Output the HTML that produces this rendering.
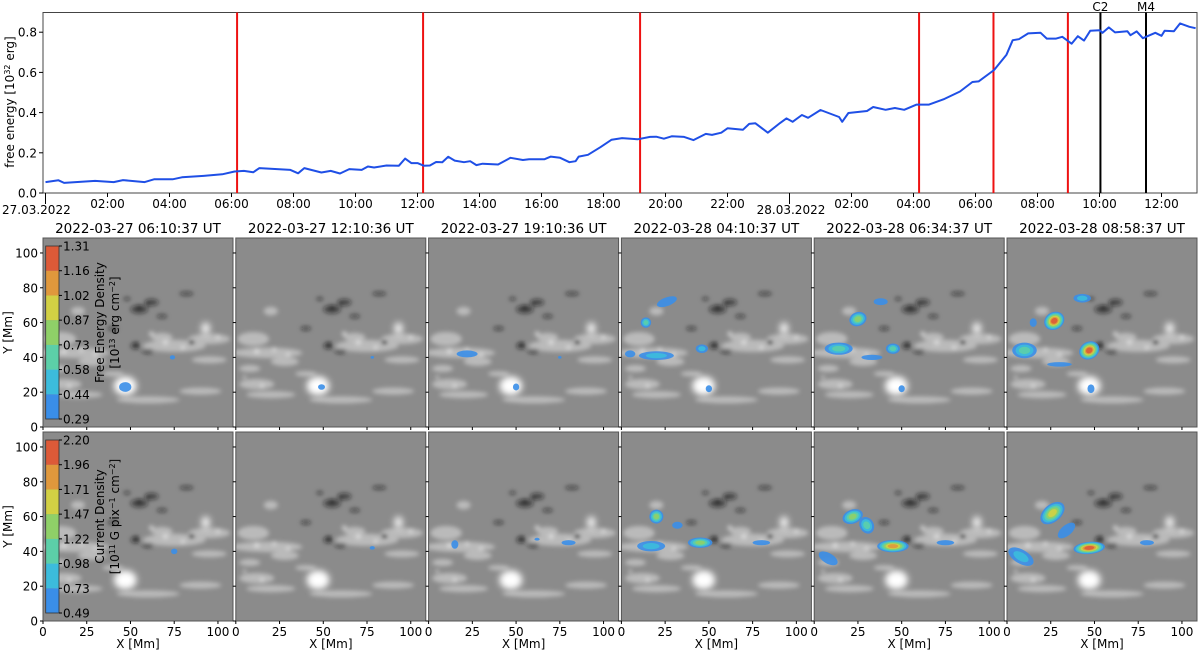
<!DOCTYPE html>
<html><head><meta charset="utf-8">
<style>
html,body{margin:0;padding:0;background:#fff;}
svg{display:block;font-family:"DejaVu Sans","Liberation Sans",sans-serif;}
</style></head>
<body>
<svg id="fig" width="1200" height="651" viewBox="0 0 1200 651" xmlns="http://www.w3.org/2000/svg">
<defs>
<filter id="blur1" x="-20%" y="-20%" width="140%" height="140%"><feGaussianBlur stdDeviation="1.2"/></filter>
<filter id="blur2" x="-50%" y="-50%" width="200%" height="200%"><feGaussianBlur stdDeviation="2"/></filter>
<symbol id="mag" viewBox="0 0 108.6 108.6" preserveAspectRatio="none">
<rect x="0" y="0" width="108.6" height="108.6" fill="#8b8b8b"/>
<g filter="url(#blur1)">
<g fill="#f4f4f4" opacity="0.45">
<ellipse cx="18" cy="66" rx="20" ry="3"/>
<ellipse cx="10" cy="58" rx="9" ry="4"/>
<ellipse cx="28" cy="71" rx="8" ry="2.5"/>
<ellipse cx="75" cy="62" rx="18" ry="3.5"/>
<ellipse cx="95" cy="58" rx="12" ry="3"/>
<ellipse cx="68" cy="57" rx="6" ry="2.5"/>
<ellipse cx="12" cy="84" rx="10" ry="3"/>
<ellipse cx="20" cy="90" rx="14" ry="2"/>
<ellipse cx="60" cy="93" rx="18" ry="2"/>
<ellipse cx="90" cy="88" rx="12" ry="2"/>
<ellipse cx="20" cy="42" rx="4" ry="2.5"/>
<ellipse cx="95" cy="70" rx="10" ry="2"/>
<ellipse cx="8" cy="75" rx="6" ry="2"/>
<ellipse cx="40" cy="78" rx="6" ry="1.5"/>
</g>
<g fill="#ffffff" opacity="0.5">
<circle cx="12" cy="65" r="1.5"/><circle cx="22" cy="64" r="1.2"/><circle cx="30" cy="67" r="1.2"/>
<circle cx="70" cy="60" r="1.5"/><circle cx="80" cy="63" r="1.2"/><circle cx="100" cy="57" r="1.2"/>
<circle cx="15" cy="85" r="1.2"/><circle cx="5" cy="80" r="1"/><circle cx="62" cy="55" r="1.5"/>
</g>
<g fill="#1a1a1a" opacity="0.55">
<ellipse cx="55" cy="41" rx="5" ry="2.5"/>
<ellipse cx="62" cy="37" rx="4" ry="2"/>
<ellipse cx="53" cy="62" rx="3" ry="2"/>
<ellipse cx="60" cy="65" rx="3.5" ry="1.5"/>
<ellipse cx="85" cy="60" rx="2" ry="1.5"/>
<ellipse cx="82" cy="32" rx="4" ry="1.2"/>
<ellipse cx="40" cy="52" rx="3" ry="1.2"/>
<ellipse cx="68" cy="45" rx="3" ry="1.2"/>
<ellipse cx="48" cy="35" rx="2" ry="1"/>
</g>
<g fill="#111" opacity="0.7">
<circle cx="55" cy="40" r="1.3"/><circle cx="60" cy="38" r="1"/><circle cx="53" cy="61" r="1.2"/><circle cx="85" cy="60" r="1.2"/>
</g>
</g>
<g filter="url(#blur2)">
<ellipse cx="47" cy="85" rx="6.5" ry="5.5" fill="#ffffff"/>
<ellipse cx="93" cy="52" rx="2.5" ry="3.5" fill="#ffffff" opacity="0.9"/>
</g>
</symbol>
</defs>

<g id="top">
<rect x="43" y="12.5" width="1154" height="180.5" fill="#fff" stroke="#444" stroke-width="1"/>
<g id="top-yticks"></g>
<g id="top-xticks"></g>
<g id="top-vlines"></g>
<path id="energy-line" fill="none" stroke="#1f4fe6" stroke-width="2" stroke-linejoin="round"/>
<text transform="translate(14,102) rotate(-90)" text-anchor="middle" font-size="12">free energy [10<tspan baseline-shift="super" font-size="8">32</tspan> erg]</text>
<text x="2" y="214" font-size="12">27.03.2022</text>
<text x="791" y="214" font-size="12" text-anchor="middle">28.03.2022</text>
</g>

<g id="panels"></g>
</svg>

<script>
const hours = [0,0.42,0.6,1.6,2.2,2.5,3.2,3.5,4.1,4.4,5.1,5.7,6.1,6.4,6.7,6.9,7.9,8.15,8.35,8.9,9.2,9.5,9.8,10.2,10.4,10.6,11.0,11.4,11.6,11.8,12.0,12.2,12.4,12.6,12.8,12.99,13.2,13.5,13.7,13.9,14.1,14.6,15.0,15.4,15.6,16.1,16.3,16.6,16.9,17.1,17.2,17.5,17.9,18.26,18.6,19.1,19.5,19.7,19.95,20.2,20.6,20.9,21.3,21.5,21.8,22.0,22.5,22.7,22.9,23.3,23.7,23.9,24.1,24.4,24.6,25.0,25.6,25.7,25.9,26.5,26.7,27.1,27.4,27.7,28.1,28.5,29.0,29.5,29.9,30.1,30.6,31.0,31.2,31.4,31.7,32.1,32.3,32.6,32.8,33.1,33.3,33.5,33.7,34.0,34.1,34.3,34.5,34.9,35.0,35.2,35.4,35.5,35.8,36.0,36.1,36.4,36.6,36.9,37.1];
const energy = [0.054,0.063,0.05,0.06,0.054,0.064,0.054,0.068,0.068,0.078,0.085,0.093,0.107,0.11,0.103,0.124,0.115,0.098,0.124,0.102,0.11,0.097,0.119,0.115,0.132,0.127,0.137,0.136,0.171,0.149,0.149,0.136,0.137,0.154,0.153,0.18,0.161,0.153,0.158,0.139,0.146,0.142,0.175,0.164,0.168,0.168,0.181,0.175,0.153,0.158,0.181,0.19,0.228,0.265,0.273,0.267,0.279,0.28,0.27,0.282,0.279,0.263,0.294,0.289,0.3,0.322,0.315,0.344,0.347,0.3,0.349,0.371,0.354,0.388,0.374,0.413,0.378,0.354,0.398,0.408,0.428,0.414,0.423,0.414,0.44,0.44,0.468,0.505,0.552,0.555,0.612,0.688,0.76,0.765,0.794,0.797,0.768,0.768,0.777,0.743,0.78,0.758,0.807,0.81,0.797,0.824,0.799,0.805,0.785,0.804,0.77,0.777,0.797,0.782,0.807,0.805,0.844,0.827,0.82];
const yTicks = [0.0,0.2,0.4,0.6,0.8];
const yTickLabels = ["0.0","0.2","0.4","0.6","0.8"];
const xTickHours = [2,4,6,8,10,12,14,16,18,20,22,26,28,30,32,34,36];
const xTickLabels = ["02:00","04:00","06:00","08:00","10:00","12:00","14:00","16:00","18:00","20:00","22:00","02:00","04:00","06:00","08:00","10:00","12:00"];
const redLineHours = [6.18,12.18,19.18,28.18,30.58,32.98];
const flareHours = [34.03,35.5];
const flareLabels = ["C2","M4"];

const NS='http://www.w3.org/2000/svg';
function mk(tag, attrs, parent){const e=document.createElementNS(NS,tag);for(const k in attrs)e.setAttribute(k,attrs[k]);parent.appendChild(e);return e;}
const xT = h => 45.5 + 31.0*h;
const yT = v => 193 - 201*v;

let d='';
hours.forEach((h,i)=>{d+=(i?'L':'M')+xT(h).toFixed(1)+','+yT(energy[i]).toFixed(1);});
document.getElementById('energy-line').setAttribute('d',d);

const gy=document.getElementById('top-yticks');
yTicks.forEach((v,i)=>{
  const l=mk('line',{x1:39,x2:43,y1:yT(v),y2:yT(v),stroke:'#000'},gy);
  
  
  const t=mk('text',{x:37,y:yT(v)+4.5,'text-anchor':'end','font-size':12},gy);
  t.textContent=yTickLabels[i];
  
  
});
const gx=document.getElementById('top-xticks');
xTickHours.forEach((h,i)=>{
  const l=mk('line',{x1:xT(h),x2:xT(h),y1:193,y2:197,stroke:'#000'},gx);
  
  
  const t=mk('text',{x:xT(h),y:208,'text-anchor':'middle','font-size':12},gx);
  t.textContent=xTickLabels[i];
  
  
});
[0,24].forEach(h=>{
  const l=mk('line',{x1:xT(h),x2:xT(h),y1:193,y2:204,stroke:'#000'},gx);
  
  
});
const gv=document.getElementById('top-vlines');
redLineHours.forEach(h=>{
  const l=mk('line',{x1:xT(h),x2:xT(h),y1:12.5,y2:193,stroke:'#ee1111','stroke-width':2},gv);
  
  
});
flareHours.forEach((h,i)=>{
  const l=mk('line',{x1:xT(h),x2:xT(h),y1:12.5,y2:193,stroke:'#000','stroke-width':2},gv);
  
  
  const t=mk('text',{x:xT(h),y:11,'text-anchor':'middle','font-size':12},gv);
  t.textContent=flareLabels[i];
  
  
});

const titles=["2022-03-27 06:10:37 UT","2022-03-27 12:10:36 UT","2022-03-27 19:10:36 UT","2022-03-28 04:10:37 UT","2022-03-28 06:34:37 UT","2022-03-28 08:58:37 UT"];
const panelLefts=[43,235.8,428.6,621.4,814.2,1007];
const rowTops=[238,432];
const PW=190, PH=189, MM=108.6;
const cmap=['#3a8ee8','#3cbcdc','#5ccfa8','#8fd068','#d2d044','#e0983c','#dd5a38'];
const cbTicks1=["0.29","0.44","0.58","0.73","0.87","1.02","1.16","1.31"];
const cbTicks2=["0.49","0.73","0.98","1.22","1.47","1.71","1.96","2.20"];
const blobs=[
 [ [[47,23,3.5,2.8,0,0],[74,40,1.5,1.2,0,0]],
   [[49,23,2,1.6,0,0],[78,40,1,0.8,0,0]],
   [[22,42,6,2,0,0],[50,23,1.8,2,0,0],[75,40,1,0.8,0,0]],
   [[14,60,3,3,0,2],[26,72,6,2.5,-20,0],[20,41,10,2.5,0,1],[46,45,3.5,2.5,0,1],[50,22,1.8,2,0,0],[5,42,3,2,0,0]],
   [[25,62,5,4,-20,3],[14,45,8,3.5,0,2],[45,45,4,3,0,2],[50,22,1.8,2,0,0],[38,72,4,2,0,0],[33,40,6,1.5,0,0]],
   [[27,61,6,5,-30,6],[47,44,6,5,-30,6],[10,44,7,4.5,0,2],[43,74,5,2.5,0,1],[30,36,7,1.3,0,0],[48,22,2,2.5,0,0],[15,60,2,2.5,0,0]] ],
 [ [[75,40,1.8,1.6,0,0]],
   [[78,42,1.5,1,0,0]],
   [[15,44,2,2.5,0,0],[80,45,4,1.5,0,0],[62,47,1.5,0.8,0,0]],
   [[20,60,4,4,-20,3],[17,43,8,3,0,1],[45,45,7,3,0,3],[80,45,5,1.5,0,0],[32,55,3,2,0,0]],
   [[22,60,6,4,-20,3],[30,55,4,5,-30,2],[45,43,9,3.5,0,5],[8,36,6,3,30,0],[75,45,5,1.5,0,0]],
   [[26,62,8,5,-40,4],[47,42,9,3.5,-5,6],[8,37,8,4,30,1],[80,45,4,1.5,0,0],[34,52,6,3,-40,0]] ]
];
const gp=document.getElementById('panels');
for(let r=0;r<2;r++){
  for(let c=0;c<6;c++){
    const L=panelLefts[c], T=rowTops[r];
    const xM=v=>L+v*PW/MM, yM=v=>T+PH-v*PH/MM;
    const g=mk('g',{},gp);
    
    
    mk('use',{href:'#mag',x:L,y:T,width:PW,height:PH},g);
    blobs[r][c].forEach(b=>{
      const cx=xM(b[0]), cy=yM(b[1]), rx=b[2]*PW/MM, ry=b[3]*PH/MM;
      for(let k=0;k<=b[5];k++){
        const f=1-k/(b[5]+1)*0.8;
        const e=mk('ellipse',{cx:cx,cy:cy,rx:rx*f,ry:ry*f,fill:cmap[k],opacity:0.9,transform:`rotate(${b[4]} ${cx} ${cy})`},g);
        
        
      }
    });
    mk('rect',{x:L,y:T,width:PW,height:PH,fill:'none',stroke:'#555','stroke-width':1},g);
    [0,25,50,75,100].forEach(v=>{
      mk('line',{x1:xM(v),x2:xM(v),y1:T+PH,y2:T+PH+3,stroke:'#000'},g);
      if(r===1){
        const t=mk('text',{x:xM(v),y:T+PH+15,'text-anchor':'middle','font-size':12},g);
        t.textContent=String(v);
        
        
      }
    });
    [0,20,40,60,80,100].forEach(v=>{
      mk('line',{x1:L-3,x2:L,y1:yM(v),y2:yM(v),stroke:'#000'},g);
      if(c===0){
        const t=mk('text',{x:L-5,y:yM(v)+4.5,'text-anchor':'end','font-size':12},g);
        t.textContent=String(v);
        
        
      }
    });
    if(r===0){
      const t=mk('text',{x:L+PW/2,y:T-5,'text-anchor':'middle','font-size':13.5},g);
      t.textContent=titles[c];
      
      
    } else {
      const t=mk('text',{x:L+PW/2,y:648,'text-anchor':'middle','font-size':12},g);
      t.textContent='X [Mm]';
      
      
    }
    if(c===0){
      const t=mk('text',{transform:`translate(12,${T+PH/2}) rotate(-90)`,'text-anchor':'middle','font-size':12},g);
      t.textContent='Y [Mm]';
      
      
      const cbT=T+8, cbB=T+181, cbL=45.7, cbW=13.3, bh=(cbB-cbT)/7;
      const cb=mk('g',{},g);
      
      
      for(let k=0;k<7;k++){
        mk('rect',{x:cbL,y:cbB-(k+1)*bh,width:cbW,height:bh,fill:cmap[k]},cb);
      }
      mk('rect',{x:cbL,y:cbT,width:cbW,height:cbB-cbT,fill:'none',stroke:'#333','stroke-width':0.8},cb);
      const lbl=r===0?cbTicks1:cbTicks2;
      lbl.forEach((s,k)=>{
        const yy=cbB-k*bh;
        mk('line',{x1:cbL+cbW,x2:cbL+cbW+3,y1:yy,y2:yy,stroke:'#000'},cb);
        const t=mk('text',{x:cbL+cbW+4,y:yy+4.5,'font-size':12},cb);
        t.textContent=s;
        
        
      });
      const t1=mk('text',{transform:`translate(104,${T+PH/2-10}) rotate(-90)`,'text-anchor':'middle','font-size':12},cb);
      t1.textContent=r===0?'Free Energy Density':'Current Density';
      
      
      const t2=mk('text',{transform:`translate(119,${T+PH/2-10}) rotate(-90)`,'text-anchor':'middle','font-size':12},cb);
      t2.innerHTML=r===0?'[10<tspan baseline-shift="super" font-size="8">13</tspan> erg cm<tspan baseline-shift="super" font-size="8">−2</tspan>]':'[10<tspan baseline-shift="super" font-size="8">11</tspan> G pix<tspan baseline-shift="super" font-size="8">−1</tspan> cm<tspan baseline-shift="super" font-size="8">−2</tspan>]';
      
      
    }
  }
}
</script>
</body></html>
